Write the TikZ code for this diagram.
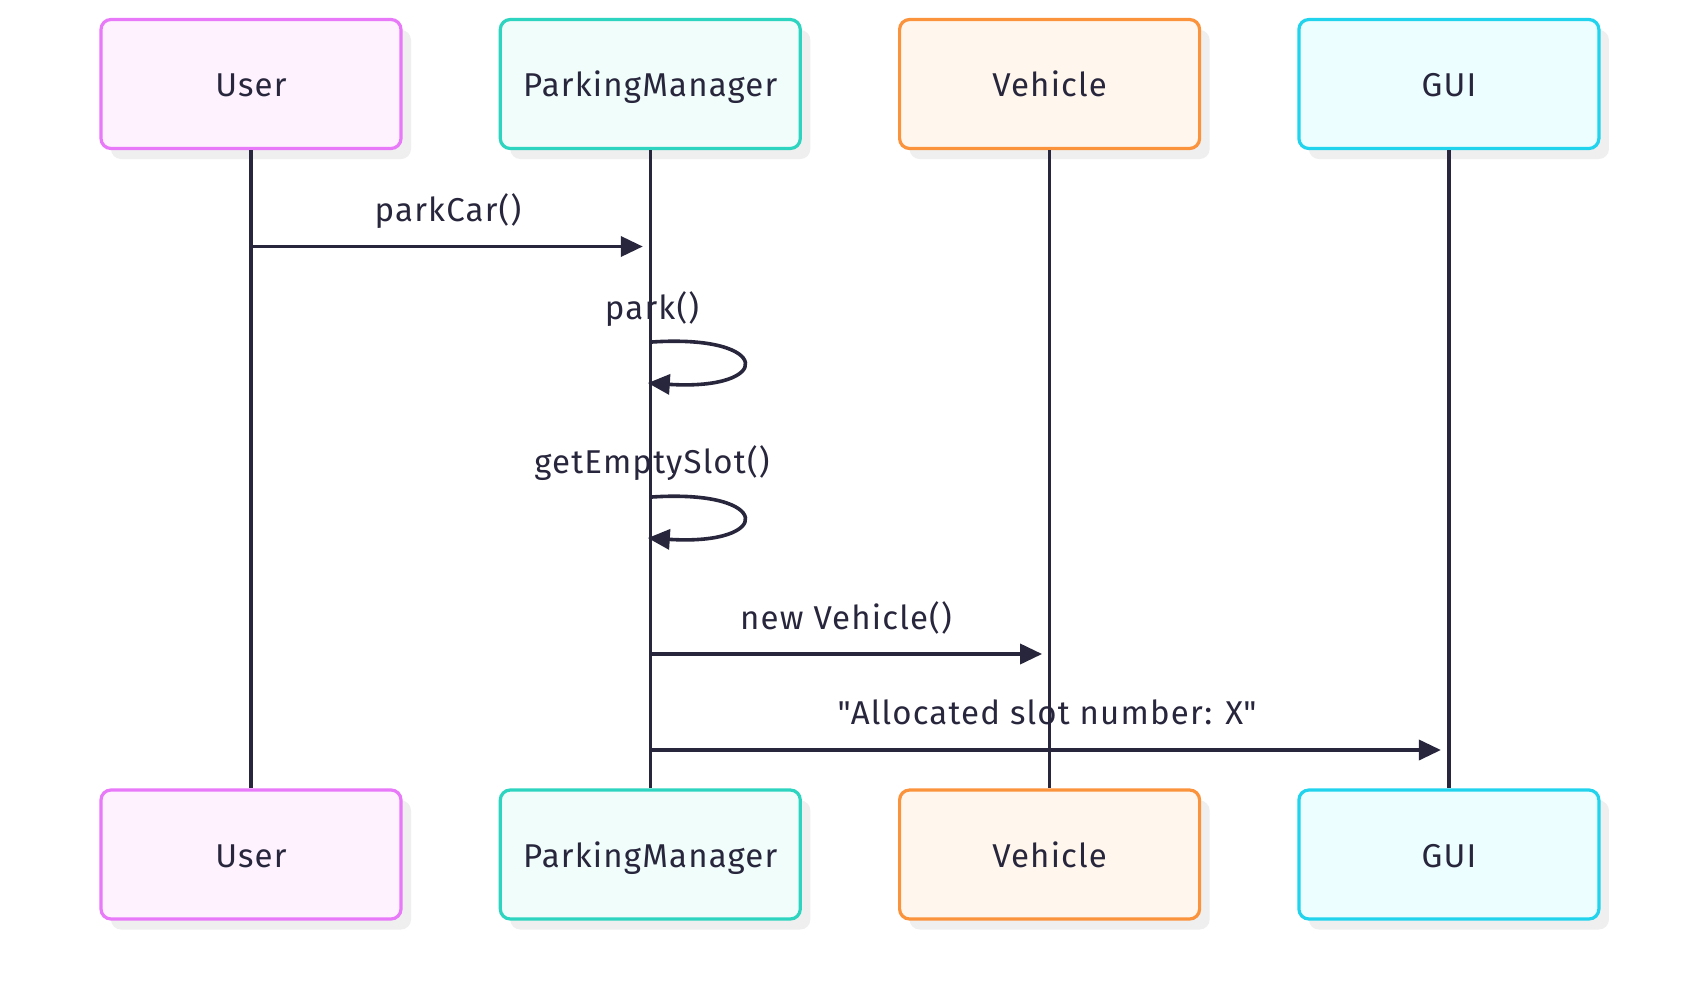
\documentclass[tikz,border=0pt]{standalone}
\usepackage{fontspec}
\setmainfont{Fira Sans}[LetterSpace=3.6]
\usetikzlibrary{arrows.meta,shadows}
\definecolor{ink}{RGB}{40,38,60}
\definecolor{shgray}{RGB}{239,239,239}
\definecolor{uBorder}{RGB}{232,121,249}
\definecolor{uFill}{RGB}{253,242,254}
\definecolor{pBorder}{RGB}{45,212,191}
\definecolor{pFill}{RGB}{240,253,250}
\definecolor{vBorder}{RGB}{251,146,60}
\definecolor{vFill}{RGB}{255,247,237}
\definecolor{gBorder}{RGB}{34,211,238}
\definecolor{gFill}{RGB}{236,254,255}
\tikzset{
  actor/.style={rounded corners=10pt, line width=3.2pt, minimum width=300pt, minimum height=129pt,
    inner sep=0pt, text=ink, font=\fontsize{33}{39}\selectfont, text height=25pt, text depth=0pt,
    general shadow={shadow xshift=10pt, shadow yshift=-10.5pt, fill=shgray, draw=none}},
  lifeline/.style={draw=ink, line width=3.3pt},
  msg/.style={draw=ink, line width=3.6pt, -{Triangle[length=22pt,width=20pt]}},
  msglabel/.style={text=ink, font=\fontsize{33}{39}\selectfont, anchor=base, inner sep=0pt}
}
\begin{document}
\begin{tikzpicture}[x=1pt,y=-1pt]
\useasboundingbox[fill=white] (0,0) rectangle (1700,1002);
% top actors
\node[actor, draw=uBorder, fill=uFill] (u1) at (251,84) {User};
\node[actor, draw=pBorder, fill=pFill] (p1) at (650.3,84) {ParkingManager};
\node[actor, draw=vBorder, fill=vFill] (v1) at (1049.6,84) {Vehicle};
\node[actor, draw=gBorder, fill=gFill] (g1) at (1448.9,84) {GUI};
% bottom actors
\node[actor, draw=uBorder, fill=uFill] (u2) at (251,854.5) {User};
\node[actor, draw=pBorder, fill=pFill] (p2) at (650.3,854.5) {ParkingManager};
\node[actor, draw=vBorder, fill=vFill] (v2) at (1049.6,854.5) {Vehicle};
\node[actor, draw=gBorder, fill=gFill] (g2) at (1448.9,854.5) {GUI};
% lifelines
\draw[lifeline] (u1.south) -- (u2.north);
\draw[lifeline] (p1.south) -- (p2.north);
\draw[lifeline] (v1.south) -- (v2.north);
\draw[lifeline] (g1.south) -- (g2.north);
% messages
\coordinate (m1s) at (u1.south |- 0,246.5);
\coordinate (m1e) at ([xshift=-7.5pt]p1.south |- 0,246.5);
\draw[msg] (m1s) -- (m1e);
\node[msglabel] (l1) at (448,221) {parkCar()};

\coordinate (s1a) at ([xshift=1.5pt]p1.south |- 0,342);
\coordinate (s1b) at ([xshift=-2.5pt]p1.south |- 0,383);
\draw[msg] (s1a) .. controls +(122,-8) and +(126,8) .. (s1b);
\node[msglabel] (l2) at (652,319) {park()};

\coordinate (s2a) at ([xshift=1.5pt]p1.south |- 0,497);
\coordinate (s2b) at ([xshift=-2.5pt]p1.south |- 0,538);
\draw[msg] (s2a) .. controls +(122,-8) and +(126,8) .. (s2b);
\node[msglabel] (l3) at (652,473) {getEmptySlot()};

\coordinate (m4s) at (p1.south |- 0,654);
\coordinate (m4e) at ([xshift=-7.5pt]v1.south |- 0,654);
\draw[msg] (m4s) -- (m4e);
\node[msglabel] (l4) at (846,629) {new Vehicle()};

\coordinate (m5s) at (p1.south |- 0,750);
\coordinate (m5e) at ([xshift=-8pt]g1.south |- 0,750);
\draw[msg] (m5s) -- (m5e);
\node[msglabel] (l5) at (1047,724) {\textquotedbl Allocated slot number: X\textquotedbl};
\end{tikzpicture}
\end{document}
